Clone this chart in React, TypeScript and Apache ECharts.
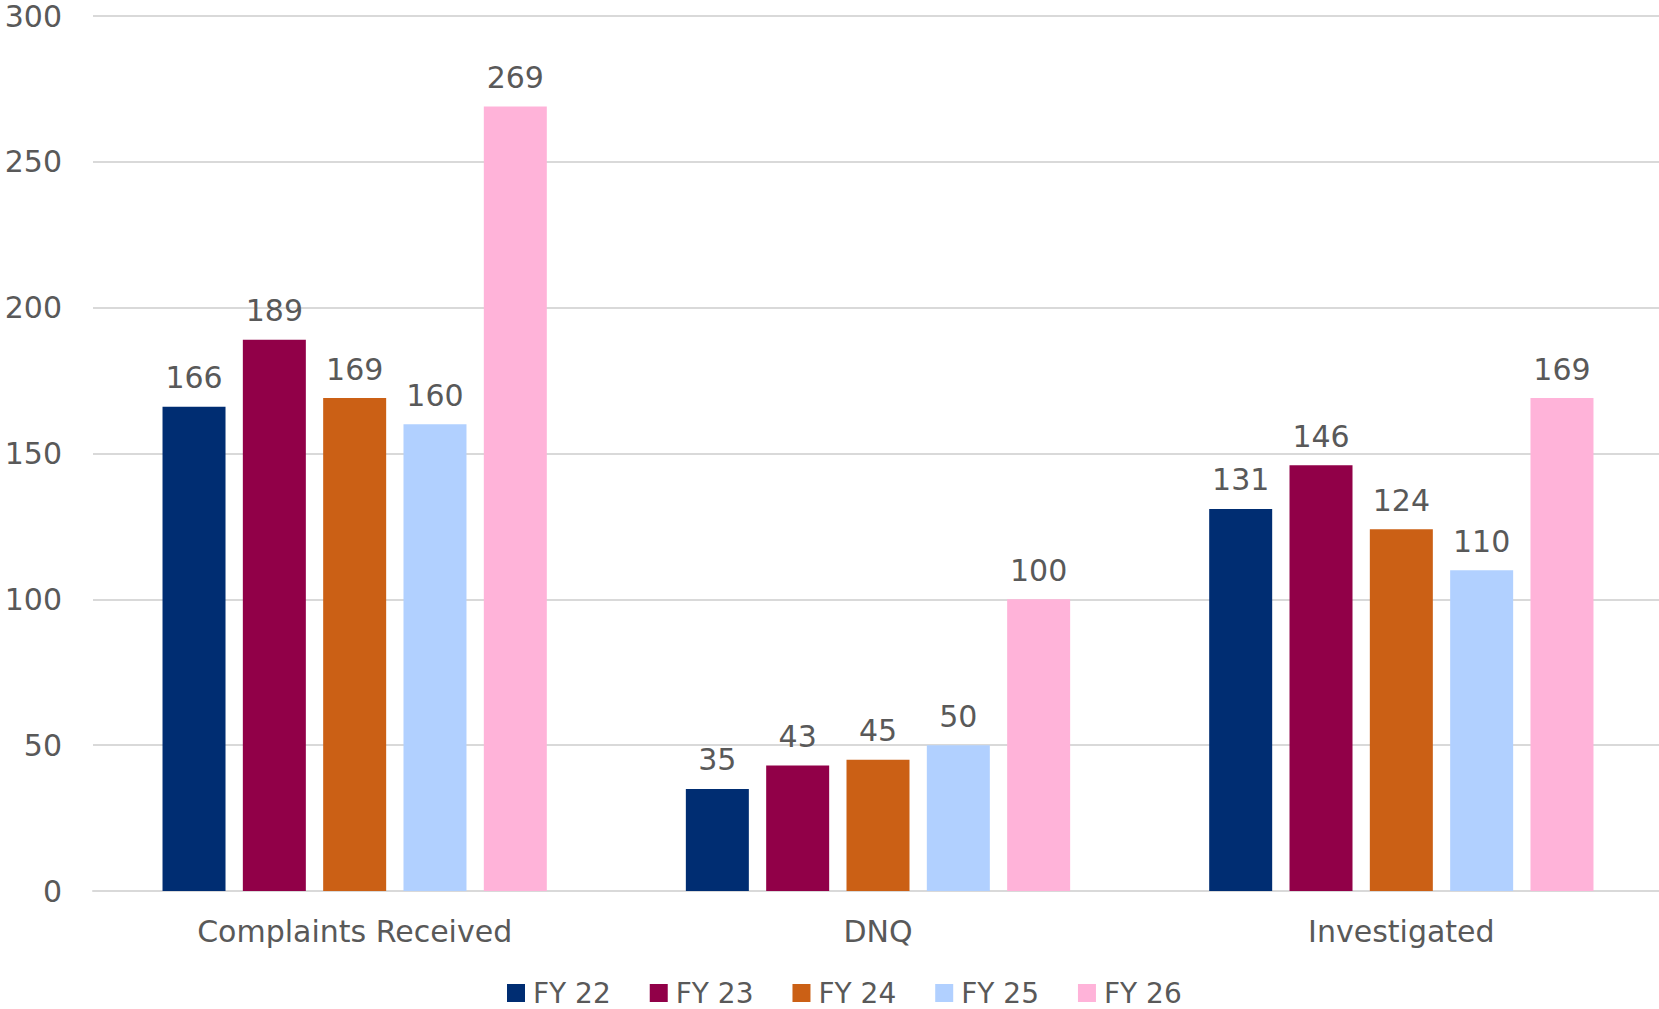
import React, { useEffect, useRef } from "react";
import * as echarts from "echarts";

const categories = ["Complaints Received", "DNQ", "Investigated"];
const seriesNames = ["FY 22", "FY 23", "FY 24", "FY 25", "FY 26"];
const fy22 = [166, 35, 131];
const fy23 = [189, 43, 146];
const fy24 = [169, 45, 124];
const fy25 = [160, 50, 110];
const fy26 = [269, 100, 169];
const colors = ["#002D72", "#910048", "#CB6015", "#B1D0FF", "#FFB3D9"];

const FONT = "'DejaVu Sans', sans-serif";
const TEXT = "#595959";

export default function App() {
  const ref = useRef<HTMLDivElement>(null);
  useEffect(() => {
    document.body.style.margin = "0";
    document.body.style.overflow = "hidden";
    const chart = echarts.init(ref.current!, null, { renderer: "svg" });
    const data = [fy22, fy23, fy24, fy25, fy26];
    chart.setOption({
      animation: false,
      textStyle: { fontFamily: FONT },
      grid: { left: 93, width: 1570, top: 16, height: 875, containLabel: false },
      legend: {
        data: seriesNames,
        left: 502,
        top: 974,
        itemWidth: 18,
        itemHeight: 18,
        itemGap: 39,
        icon: "rect",
        textStyle: {
          fontFamily: FONT,
          fontSize: 28,
          lineHeight: 28,
          color: TEXT,
          padding: [0, 0, 0, 3],
        },
      },
      xAxis: {
        type: "category",
        data: categories,
        axisTick: { show: false },
        axisLine: { lineStyle: { color: "#D9D9D9", width: 2 } },
        axisLabel: { fontFamily: FONT, fontSize: 30, lineHeight: 30, color: TEXT, margin: 25 },
      },
      yAxis: {
        type: "value",
        min: 0,
        max: 300,
        interval: 50,
        axisLabel: { fontFamily: FONT, fontSize: 30, lineHeight: 30, color: TEXT, margin: 31 },
        splitLine: { lineStyle: { color: "#D9D9D9", width: 2 } },
        axisLine: { show: false },
        axisTick: { show: false },
      },
      series: seriesNames.map((name, i) => ({
        name,
        type: "bar",
        data: data[i],
        barWidth: 63,
        barGap: "27.5%",
        itemStyle: { color: colors[i] },
        label: {
          show: true,
          position: "top",
          distance: 14,
          fontFamily: FONT,
          fontSize: 30,
          lineHeight: 30,
          color: TEXT,
        },
      })),
    });
    return () => chart.dispose();
  }, []);
  return <div ref={ref} style={{ position: "absolute", left: 0, top: 0, width: 1680, height: 1009 }} />;
}
